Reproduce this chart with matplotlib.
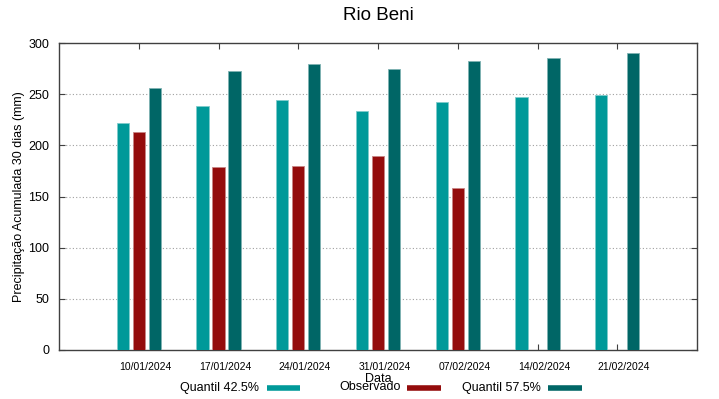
import matplotlib
matplotlib.use("Agg")
import matplotlib.pyplot as plt
from matplotlib.lines import Line2D
import numpy as np

plt.rcParams['font.family'] = ['Liberation Sans', 'DejaVu Sans']

dates = ["10/01/2024", "17/01/2024", "24/01/2024", "31/01/2024",
         "07/02/2024", "14/02/2024", "21/02/2024"]
q425 = [221.5, 238.4, 244.6, 233.6, 242.7, 247.5, 249.2]
observado = [213.0, 179.1, 179.8, 189.3, 158.0, np.nan, np.nan]
q575 = [256.3, 272.6, 279.8, 274.9, 282.7, 285.0, 290.5]

series_names = ["Quantil 42.5%", "Observado", "Quantil 57.5%"]
colors = ["#009999", "#940c0c", "#006666"]
edges = ["#7fcccc", "#c88585", "#7fb2b2"]

W, H = 719, 399
fig = plt.figure(figsize=(W / 100, H / 100), dpi=100)
ax = fig.add_axes([59 / W, 1 - 350 / H, (697 - 59) / W, (350 - 43) / H])

x = np.arange(len(dates))
offsets = [-0.2, 0.0, 0.2]
bw = 0.155
for vals, off, c, ec in zip([q425, observado, q575], offsets, colors, edges):
    ax.bar(x + off, vals, width=bw, color=c, edgecolor=ec, linewidth=0.6, zorder=3)

ax.set_xlim(-1, 7)
ax.set_ylim(0, 300)
ax.set_yticks(range(0, 301, 50))
# major ticks at group centres (no labels), labels slightly to the right
ax.set_xticks(x)
ax.set_xticklabels([])
ax.set_xticks(x + 0.085, minor=True)
ax.set_xticklabels(dates, minor=True, fontsize=7.5)
ax.tick_params(axis='x', which='major', direction='in', top=True, bottom=True,
               length=4, width=0.8, color='#404040')
ax.tick_params(axis='x', which='minor', length=0, pad=9, top=False)
ax.tick_params(axis='y', direction='in', left=True, right=True, length=4,
               width=0.8, color='#404040', labelsize=9, pad=7)

for yv in range(50, 300, 50):
    ax.axhline(yv, color='#a0a0a0', linestyle=(0, (1, 2)), linewidth=0.8, zorder=1)

for s in ax.spines.values():
    s.set_color('#404040')
    s.set_linewidth(1.0)

ax.set_ylabel("Precipitação Acumulada 30 dias (mm)", fontsize=9, labelpad=2)
fig.text(378 / W, 1 - 379 / H, "Data", ha='center', va='center', fontsize=9)
fig.text(378 / W, 1 - 16 / H, "Rio Beni", ha='center', va='center', fontsize=13.5)

# legend below the axes (text then sample)
text_right = [259.5, 400.5, 540.5]
sample_x = [(267, 300), (407, 441), (548, 582)]
ly = 387.5
for name, c, tr, (s0, s1) in zip(series_names, colors, text_right, sample_x):
    fig.text(tr / W, 1 - ly / H, name, ha='right', va='center', fontsize=9)
    fig.add_artist(Line2D([s0 / W, s1 / W], [1 - ly / H, 1 - ly / H],
                          color=c, linewidth=4, solid_capstyle='butt',
                          transform=fig.transFigure))

fig.savefig("out.png", dpi=100)
